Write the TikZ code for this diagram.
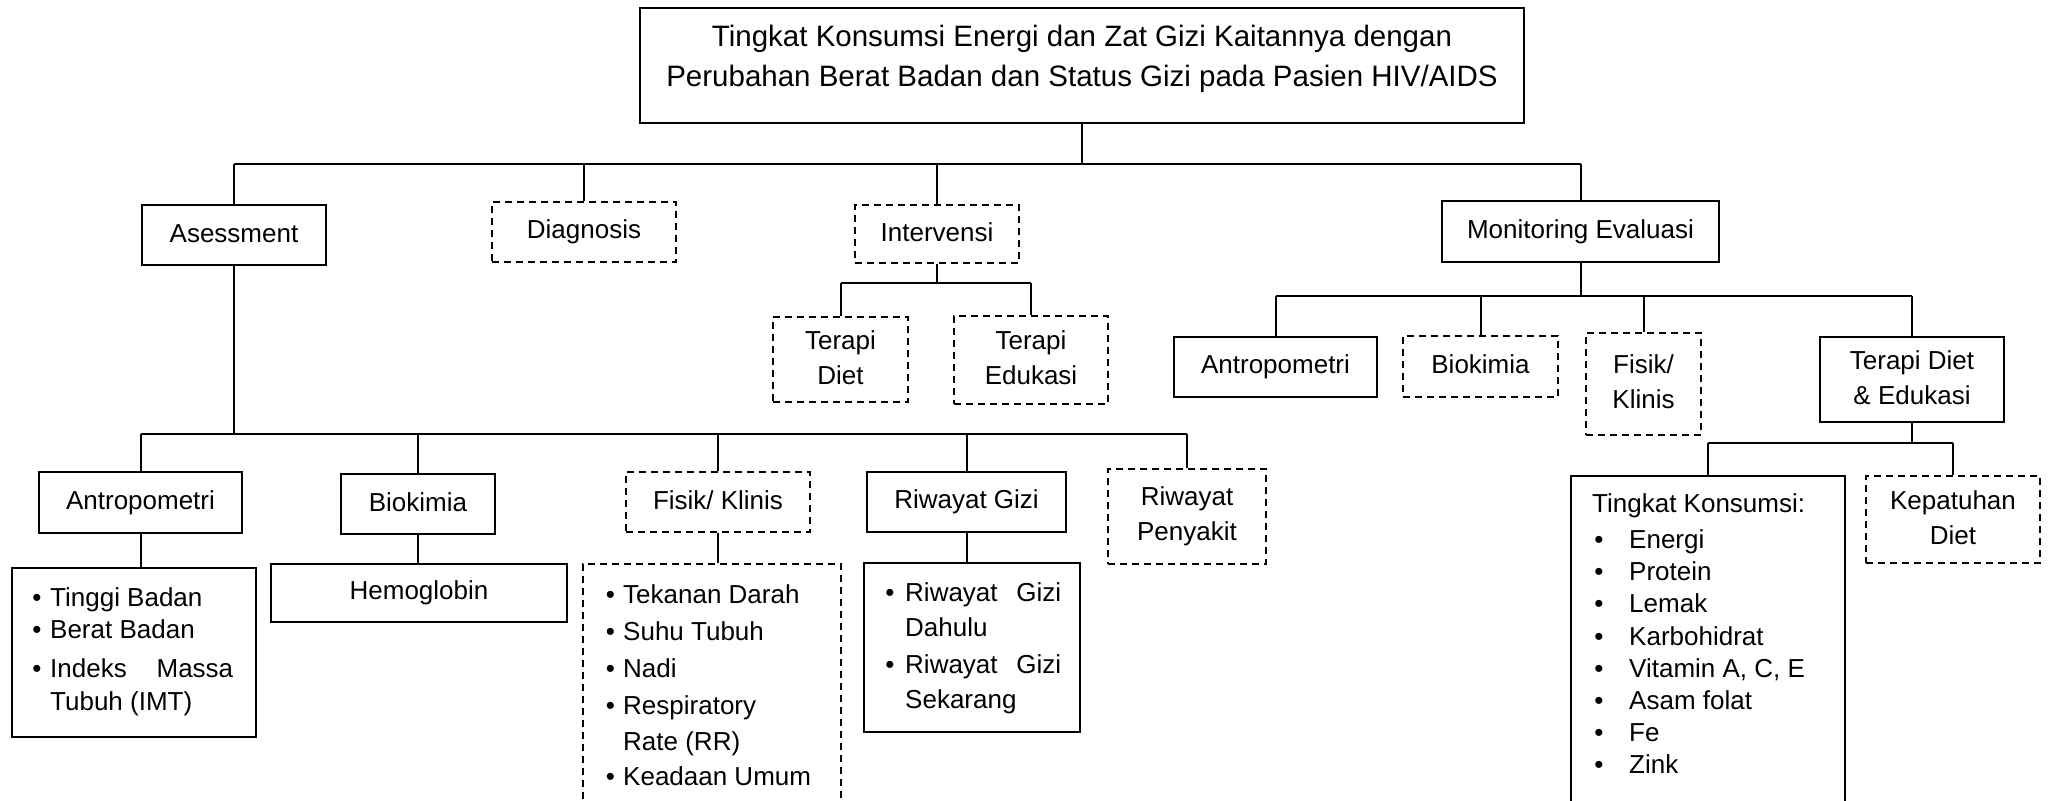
\documentclass[tikz,border=0pt]{standalone}
\usepackage{fontspec}
\setmainfont{Liberation Sans}
\newcommand\bodyfont{\fontsize{26}{35}\selectfont}
\newcommand\titlefont{\fontsize{29.5}{40}\selectfont}
\newcommand\stt{\rule[-5pt]{0pt}{24pt}}
\tikzset{
  box/.style={draw, line width=2.2pt, inner sep=0pt, align=center, font=\bodyfont},
  dbox/.style={box, line width=2pt, dash pattern=on 7pt off 5pt},
  conn/.style={line width=2pt},
  txt/.style={inner sep=0pt, anchor=base west, font=\bodyfont},
  bul/.style={inner sep=0pt, anchor=base, font=\bodyfont},
  ttl/.style={inner sep=0pt, anchor=base, font=\titlefont},
}
\newcommand\mkbox[7]{\node[#2, minimum width={(#5-#3)*1pt}, minimum height={(#6-#4)*1pt}] (#1) at ({(#3+#5)/2},{(#4+#6)/2}) {#7};}
\newcommand\bitem[5]{\node[bul] (#1b) at (#2,#4) {•}; \node[txt] (#1) at (#3,#4) {#5};}
\begin{document}
\begin{tikzpicture}[x=1pt,y=-1pt]
\useasboundingbox (0,0) rectangle (2049,800);
\clip (0,0) rectangle (2049,800);
% top level
\mkbox{title}{box}{640}{8}{1524}{123}{}
\node[ttl] (title1) at (1082,47) {Tingkat Konsumsi Energi dan Zat Gizi Kaitannya dengan};
\node[ttl] (title2) at (1082,86) {Perubahan Berat Badan dan Status Gizi pada Pasien HIV/AIDS};
\mkbox{asess}{box}{142}{205}{326}{265}{\stt Asessment}
\mkbox{diag}{dbox}{492}{202}{676}{262}{\stt Diagnosis}
\mkbox{interv}{dbox}{855}{205}{1019}{263}{\stt Intervensi}
\mkbox{monev}{box}{1442}{201}{1719}{262}{\stt Monitoring Evaluasi}
% intervensi
\mkbox{tdiet}{dbox}{773}{317}{908}{402}{\stt Terapi\\\stt Diet}
\mkbox{tedu}{dbox}{954}{316}{1108}{404}{\stt Terapi\\\stt Edukasi}
% asessment
\mkbox{antro}{box}{39}{472}{242}{533}{\stt Antropometri}
\mkbox{bio}{box}{341}{474}{495}{534}{\stt Biokimia}
\mkbox{fisik}{dbox}{626}{472}{810}{532}{\stt Fisik/ Klinis}
\mkbox{riwg}{box}{867}{472}{1066}{532}{\stt Riwayat Gizi}
\mkbox{riwp}{dbox}{1108}{469}{1266}{564}{\stt Riwayat\\\stt Penyakit}
\mkbox{antroL}{box}{12}{568}{256}{737}{}
\mkbox{hemo}{box}{271}{564}{567}{622}{\stt Hemoglobin}
\mkbox{fisikL}{dbox}{583}{564}{841}{816}{}
\mkbox{riwgL}{box}{864}{563}{1080}{732}{}
% monitoring
\mkbox{mantro}{box}{1174}{337}{1377}{397}{\stt Antropometri}
\mkbox{mbio}{dbox}{1403}{336}{1558}{397}{\stt Biokimia}
\mkbox{mfisik}{dbox}{1586}{333}{1701}{435}{\stt Fisik/\\\stt Klinis}
\mkbox{mtdiet}{box}{1820}{337}{2004}{422}{\stt Terapi Diet\\\stt \& Edukasi}
\mkbox{tkons}{box}{1571}{476}{1845}{816}{}
\mkbox{kepat}{dbox}{1866}{476}{2040}{563}{\stt Kepatuhan\\\stt Diet}
% list texts
\bitem{a1}{37}{50}{606}{Tinggi Badan}
\bitem{a2}{37}{50}{638}{Berat Badan}
\bitem{a3}{37}{50}{677}{\makebox[183pt][s]{Indeks Massa}}
\node[txt] (a4) at (50,710) {Tubuh (IMT)};
\bitem{f1}{610.5}{623}{603}{Tekanan Darah}
\bitem{f2}{610.5}{623}{640}{Suhu Tubuh}
\bitem{f3}{610.5}{623}{677}{Nadi}
\bitem{f4}{610.5}{623}{714}{Respiratory}
\node[txt] (f5) at (623,750) {Rate (RR)};
\bitem{f6}{610.5}{623}{785}{Keadaan Umum}
\bitem{r1}{890}{905}{601}{\makebox[156pt][s]{Riwayat Gizi}}
\node[txt] (r2) at (905,636) {Dahulu};
\bitem{r3}{890}{905}{673}{\makebox[156pt][s]{Riwayat Gizi}}
\node[txt] (r4) at (905,708) {Sekarang};
\node[txt] (k0) at (1592,512) {Tingkat Konsumsi:};
\bitem{k1}{1599}{1629}{548}{Energi}
\bitem{k2}{1599}{1629}{580}{Protein}
\bitem{k3}{1599}{1629}{612}{Lemak}
\bitem{k4}{1599}{1629}{645}{Karbohidrat}
\bitem{k5}{1599}{1629}{677}{Vitamin A, C, E}
\bitem{k6}{1599}{1629}{709}{Asam folat}
\bitem{k7}{1599}{1629}{741}{Fe}
\bitem{k8}{1599}{1629}{773}{Zink}
% connectors
\coordinate (busA) at (0,164);
\coordinate (busI) at (0,283);
\coordinate (busS) at (0,434);
\coordinate (busM) at (0,296);
\coordinate (busT) at (0,443);
\draw[conn] (title.south) -- (title.south |- busA);
\draw[conn] (asess.north |- busA) -- (monev.north |- busA);
\foreach \n in {asess,diag,interv,monev} \draw[conn] (\n.north) -- (\n.north |- busA);
\draw[conn] (interv.south) -- (interv.south |- busI);
\draw[conn] (tdiet.north |- busI) -- (tedu.north |- busI);
\foreach \n in {tdiet,tedu} \draw[conn] (\n.north) -- (\n.north |- busI);
\draw[conn] (asess.south) -- (asess.south |- busS);
\draw[conn] (antro.north |- busS) -- (riwp.north |- busS);
\foreach \n in {antro,bio,fisik,riwg,riwp} \draw[conn] (\n.north) -- (\n.north |- busS);
\draw[conn] (antro.south) -- (antro.south |- antroL.north);
\draw[conn] (bio.south) -- (bio.south |- hemo.north);
\draw[conn] (fisik.south) -- (fisik.south |- fisikL.north);
\draw[conn] (riwg.south) -- (riwg.south |- riwgL.north);
\draw[conn] (monev.south) -- (monev.south |- busM);
\draw[conn] (mantro.north |- busM) -- (mtdiet.north |- busM);
\foreach \n in {mantro,mbio,mfisik,mtdiet} \draw[conn] (\n.north) -- (\n.north |- busM);
\draw[conn] (mtdiet.south) -- (mtdiet.south |- busT);
\draw[conn] (tkons.north |- busT) -- (kepat.north |- busT);
\foreach \n in {tkons,kepat} \draw[conn] (\n.north) -- (\n.north |- busT);
\end{tikzpicture}
\end{document}
